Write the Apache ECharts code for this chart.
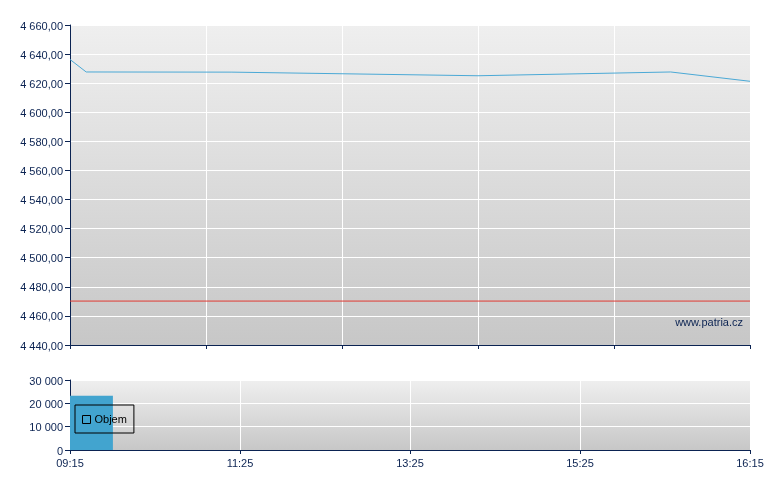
<!DOCTYPE html>
<html><head><meta charset="utf-8">
<script src="https://cdn.jsdelivr.net/npm/echarts@6/dist/echarts.min.js"></script>
<style>html,body{margin:0;padding:0;background:#fff}#c{width:780px;height:490px}</style>
</head><body><div id="c"></div>
<script>
// minutes since 09:15
var priceMinutes = [0, 10, 100, 252, 371, 420];
var priceValues = [4636.3, 4627.7, 4627.6, 4625.1, 4627.7, 4621.3];
var prevCloseMinutes = [0, 420];
var prevClose = 4470.2;
var volStart = [0];
var volEnd = [26.5];
var volValues = [23200];
var xTickLabels = ['09:15', '11:25', '13:25', '15:25', '16:15'];
var watermark = 'www.patria.cz';

var navy = '#0b2352';
var font = '"Liberation Sans", Arial, sans-serif';
var fs = 11;
function fmtNum(v, dec) {
  var s = v.toFixed(dec);
  var parts = s.split('.');
  var ip = parts[0].replace(/\B(?=(\d{3})+(?!\d))/g, ' ');
  return parts.length > 1 ? ip + ',' + parts[1] : ip;
}
var richY = {t:{color:navy, fontSize:fs, fontFamily:font, padding:[3,0,0,0]}};
var bg = {type:'linear', x:0, y:0, x2:0, y2:1, colorStops:[{offset:0,color:'#efefef'},{offset:1,color:'#c7c7c7'}]};
var chart = echarts.init(document.getElementById('c'), null, {renderer:'canvas'});
chart.setOption({
  animation: false,
  textStyle: {fontFamily: font},
  grid: [
    {left:70, right:30, top:25, height:320, show:true, backgroundColor:bg, borderWidth:0},
    {left:70, right:30, top:380, height:70, show:true, backgroundColor:bg, borderWidth:0}
  ],
  legend: {
    left: 75, top: 405, orient:'horizontal',
    padding: [9, 7, 8, 7],
    borderColor: '#000', borderWidth: 1, backgroundColor: 'transparent',
    itemWidth: 8, itemHeight: 8, itemGap: 4,
    textStyle: {color:'#000', fontSize: fs, fontFamily: font, padding:[0,0,0,-1]},
    data: [{name:'Objem', icon:'rect', itemStyle:{color:'transparent', borderColor:'#000', borderWidth:1}}]
  },
  graphic: [{type:'text', right: 37, top: 317, z: 10,
    style:{text: watermark, fill: navy, font: fs + 'px ' + font}}],
  xAxis: [
    {type:'value', gridIndex:0, min:0, max:420, interval:84,
     axisLine:{show:true, lineStyle:{color:navy, width:1}},
     axisTick:{show:true, length:4, lineStyle:{color:navy}},
     axisLabel:{show:false},
     splitLine:{show:true, lineStyle:{color:'#ffffff', width:1}}},
    {type:'value', gridIndex:1, min:0, max:420, interval:105,
     axisLine:{show:true, lineStyle:{color:navy, width:1}},
     axisTick:{show:true, length:4, lineStyle:{color:navy}},
     axisLabel:{show:true, color:navy, fontSize:fs, fontFamily:font, margin:8,
       formatter:function(v){return xTickLabels[Math.round(v/105)];}},
     splitLine:{show:true, lineStyle:{color:'#ffffff', width:1}}}
  ],
  yAxis: [
    {type:'value', gridIndex:0, min:4440, max:4660, interval:20,
     axisLine:{show:true, lineStyle:{color:navy, width:1}},
     axisTick:{show:true, length:5, lineStyle:{color:navy}},
     axisLabel:{color:navy, fontSize:fs, fontFamily:font, margin:7, rich:richY,
       formatter:function(v){return '{t|' + fmtNum(v,2) + '}';}},
     splitLine:{show:true, lineStyle:{color:'#ffffff', width:1}}},
    {type:'value', gridIndex:1, min:0, max:30000, interval:10000,
     axisLine:{show:true, lineStyle:{color:navy, width:1}},
     axisTick:{show:true, length:5, lineStyle:{color:navy}},
     axisLabel:{color:navy, fontSize:fs, fontFamily:font, margin:7, rich:richY,
       formatter:function(v){return '{t|' + fmtNum(v,0) + '}';}},
     splitLine:{show:true, lineStyle:{color:'#ffffff', width:1}}}
  ],
  series: [
    {type:'line', name:'Předchozí', xAxisIndex:0, yAxisIndex:0, symbol:'none', silent:true,
     lineStyle:{color:'#e03a32', width:1}, itemStyle:{color:'#e03a32'},
     data: prevCloseMinutes.map(function(m){return [m, prevClose];})},
    {type:'line', name:'Kurz', xAxisIndex:0, yAxisIndex:0, symbol:'none',
     lineStyle:{color:'#4ba9d6', width:1}, itemStyle:{color:'#4ba9d6'},
     data: priceMinutes.map(function(m,i){return [m, priceValues[i]];})},
    {type:'custom', name:'Objem', xAxisIndex:1, yAxisIndex:1,
     itemStyle:{color:'#42a4cf'},
     data: volValues.map(function(v,i){return [volStart[i], volEnd[i], v];}),
     renderItem:function(params, api){
       var p0 = api.coord([api.value(0), api.value(2)]);
       var p1 = api.coord([api.value(1), 0]);
       return {type:'rect', shape:{x:p0[0], y:p0[1], width:p1[0]-p0[0], height:p1[1]-p0[1]},
         style:{fill:'#42a4cf'}};
     }}
  ]
});
</script></body></html>
